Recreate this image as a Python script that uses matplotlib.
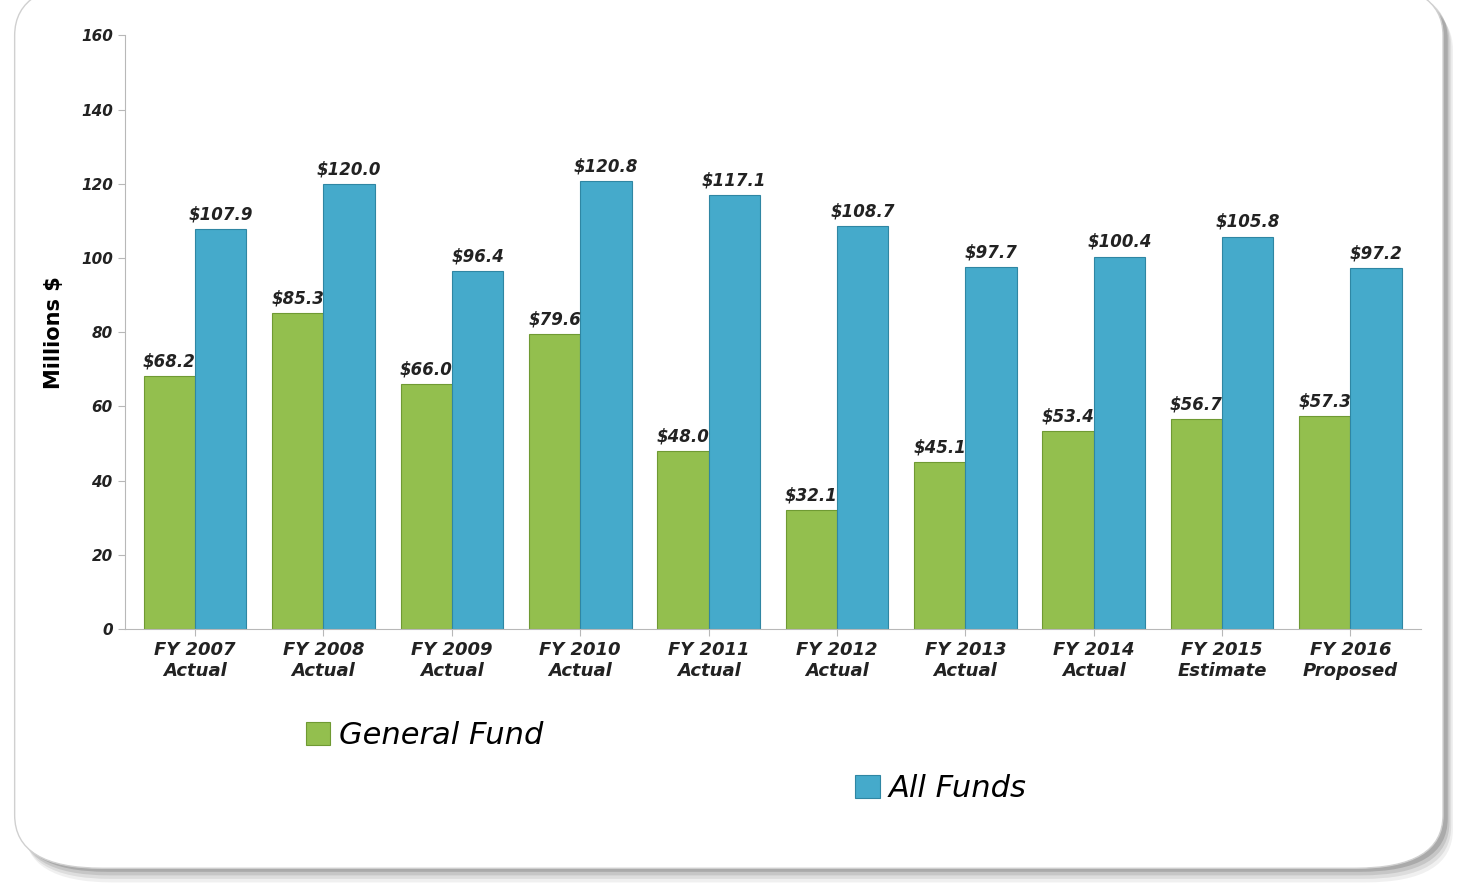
import matplotlib
matplotlib.use("Agg")
import matplotlib.pyplot as plt
import numpy as np
from matplotlib.patches import FancyBboxPatch

# Chart data
categories = ["FY 2007\nActual", "FY 2008\nActual", "FY 2009\nActual", "FY 2010\nActual",
              "FY 2011\nActual", "FY 2012\nActual", "FY 2013\nActual", "FY 2014\nActual",
              "FY 2015\nEstimate", "FY 2016\nProposed"]
general_fund = [68.2, 85.3, 66.0, 79.6, 48.0, 32.1, 45.1, 53.4, 56.7, 57.3]
all_funds = [107.9, 120.0, 96.4, 120.8, 117.1, 108.7, 97.7, 100.4, 105.8, 97.2]
y_ticks = [0, 20, 40, 60, 80, 100, 120, 140, 160]

green = "#93bf4e"
blue = "#45aacb"

fig = plt.figure(figsize=(14.65, 8.86), dpi=100)

# Card background with a soft shadow
for i, a in enumerate([0.06, 0.08, 0.10, 0.14]):
    off = 0.016 - i * 0.004
    shadow = FancyBboxPatch((0.012 + off * 0.3, 0.02 - off), 0.975, 1.0,
                            boxstyle="round,pad=0,rounding_size=0.06",
                            transform=fig.transFigure, facecolor="#000000",
                            edgecolor="none", alpha=a, zorder=-3)
    fig.patches.append(shadow)
card = FancyBboxPatch((0.01, 0.02), 0.975, 1.0,
                      boxstyle="round,pad=0,rounding_size=0.06",
                      transform=fig.transFigure, facecolor="white",
                      edgecolor="#d0d0d0", linewidth=1.0, zorder=-2)
fig.patches.append(card)

ax = fig.add_axes([0.085, 0.29, 0.885, 0.67])
ax.set_zorder(5)
ax.set_facecolor("none")

x = np.arange(len(categories))
w = 0.4
b1 = ax.bar(x - w / 2, general_fund, w, color=green, edgecolor="#6f9a33",
            linewidth=0.8, label="General Fund")
b2 = ax.bar(x + w / 2, all_funds, w, color=blue, edgecolor="#2f86a3",
            linewidth=0.8, label="All Funds")

for rect, v in zip(b1, general_fund):
    ax.text(rect.get_x() + rect.get_width() / 2, v + 1.5, "$%.1f" % v,
            ha="center", va="bottom", fontsize=12, fontweight="bold",
            style="italic", color="#222222")
for rect, v in zip(b2, all_funds):
    ax.text(rect.get_x() + rect.get_width() / 2, v + 1.5, "$%.1f" % v,
            ha="center", va="bottom", fontsize=12, fontweight="bold",
            style="italic", color="#222222")

ax.set_ylim(0, 160)
ax.set_xlim(-0.55, len(categories) - 0.45)
ax.set_yticks(y_ticks)
ax.set_yticklabels([str(t) for t in y_ticks], fontsize=11, fontweight="bold",
                   style="italic", color="#222222")
ax.set_xticks(x)
ax.set_xticklabels(categories, fontsize=13, fontweight="bold", style="italic",
                   color="#222222")
ax.set_ylabel("Millions $", fontsize=15, fontweight="bold", labelpad=12)

for side in ["top", "right"]:
    ax.spines[side].set_visible(False)
ax.spines["left"].set_color("#b8b8b8")
ax.spines["bottom"].set_color("#b8b8b8")
ax.tick_params(axis="both", color="#b8b8b8", length=5)

# Two separate legend entries, staggered like the original
leg1 = fig.legend(handles=[b1], labels=["General Fund"], loc="center left",
                  bbox_to_anchor=(0.19, 0.17), frameon=False,
                  prop={"size": 22, "style": "italic"}, handlelength=0.8,
                  handleheight=0.8, handletextpad=0.3)
leg2 = fig.legend(handles=[b2], labels=["All Funds"], loc="center left",
                  bbox_to_anchor=(0.565, 0.11), frameon=False,
                  prop={"size": 22, "style": "italic"}, handlelength=0.8,
                  handleheight=0.8, handletextpad=0.3)

fig.savefig("out.png", dpi=100)
